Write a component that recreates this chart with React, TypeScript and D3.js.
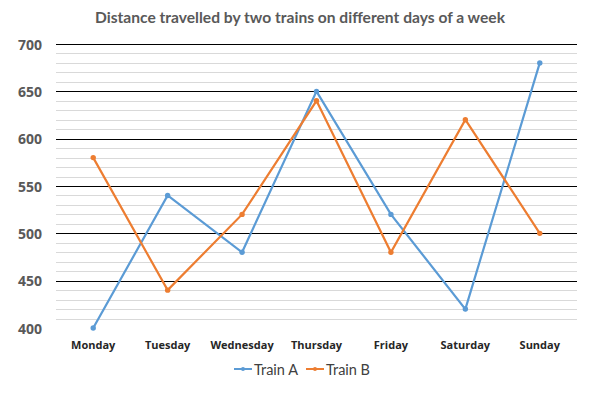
import { useEffect, useRef } from 'react';
import * as d3 from 'd3';

const days = ['Monday', 'Tuesday', 'Wednesday', 'Thursday', 'Friday', 'Saturday', 'Sunday'];
const trainA = [400, 540, 480, 650, 520, 420, 680];
const trainB = [580, 440, 520, 640, 480, 620, 500];
const yTicks = [400, 450, 500, 550, 600, 650, 700];

const COLORS = { a: '#5B9BD5', b: '#ED7D31' };

export default function App() {
  const svgRef = useRef<SVGSVGElement>(null);

  useEffect(() => {
    if (!svgRef.current) return;
    const W = 603, H = 394;
    const svg = d3.select(svgRef.current);
    svg.selectAll('*').remove();

    const x = d3.scaleBand().domain(days).range([56, 577]);
    const y = d3.scaleLinear().domain([400, 700]).range([328, 44]);

    svg.append('rect').attr('width', W).attr('height', H).attr('fill', '#fff');

    // title
    svg.append('text')
      .attr('x', 300).attr('y', 23)
      .attr('text-anchor', 'middle')
      .attr('font-family', 'Lato, sans-serif')
      .attr('font-weight', 'bold')
      .attr('font-size', 15.6)
      .attr('fill', '#595959')
      .text('Distance travelled by two trains on different days of a week');

    // minor gridlines
    const minor = d3.range(410, 700, 10).filter(v => v % 50 !== 0);
    svg.append('g').selectAll('line').data(minor).enter().append('line')
      .attr('x1', 56).attr('x2', 577)
      .attr('y1', d => Math.round(y(d)) + 0.5).attr('y2', d => Math.round(y(d)) + 0.5)
      .attr('stroke', '#d9d9d9').attr('stroke-width', 1);

    // major gridlines
    svg.append('g').selectAll('line').data(yTicks.filter(v => v > 400)).enter().append('line')
      .attr('x1', 56).attr('x2', 577)
      .attr('y1', d => Math.round(y(d)) + 0.5).attr('y2', d => Math.round(y(d)) + 0.5)
      .attr('stroke', '#000').attr('stroke-width', 1);

    // y labels
    svg.append('g').selectAll('text').data(yTicks).enter().append('text')
      .attr('x', 42).attr('y', d => y(d))
      .attr('text-anchor', 'end')
      .attr('dominant-baseline', 'central')
      .attr('font-family', '"Open Sans", sans-serif')
      .attr('font-weight', 'bold')
      .attr('font-size', 14)
      .attr('fill', '#595959')
      .text(d => d);

    // x labels
    svg.append('g').selectAll('text').data(days).enter().append('text')
      .attr('x', d => x(d)! + x.bandwidth() / 2).attr('y', 349)
      .attr('text-anchor', 'middle')
      .attr('font-family', '"Open Sans", sans-serif')
      .attr('font-weight', 'bold')
      .attr('font-size', 11)
      .attr('fill', '#262626')
      .text(d => d);

    const line = d3.line<number>()
      .x((_, i) => x(days[i])! + x.bandwidth() / 2)
      .y(d => y(d));

    const series = [
      { vals: trainA, color: COLORS.a },
      { vals: trainB, color: COLORS.b },
    ];
    series.forEach(s => {
      svg.append('path').datum(s.vals)
        .attr('d', line)
        .attr('fill', 'none')
        .attr('stroke', s.color)
        .attr('stroke-width', 2.2);
      svg.append('g').selectAll('circle').data(s.vals).enter().append('circle')
        .attr('cx', (_, i) => x(days[i])! + x.bandwidth() / 2)
        .attr('cy', d => y(d))
        .attr('r', 2.7)
        .attr('fill', s.color);
    });

    // legend
    const legend = [
      { name: 'Train A', color: COLORS.a, x: 234 },
      { name: 'Train B', color: COLORS.b, x: 306 },
    ];
    const lg = svg.append('g');
    legend.forEach(l => {
      lg.append('line')
        .attr('x1', l.x).attr('x2', l.x + 18)
        .attr('y1', 369).attr('y2', 369)
        .attr('stroke', l.color).attr('stroke-width', 2);
      lg.append('circle').attr('cx', l.x + 9).attr('cy', 369).attr('r', 2).attr('fill', l.color);
      lg.append('text')
        .attr('x', l.x + 20).attr('y', 369)
        .attr('dominant-baseline', 'central')
        .attr('font-family', 'Lato, sans-serif')
        .attr('font-size', 14.5)
        .attr('fill', '#404040')
        .text(l.name);
    });
  }, []);

  return (
    <svg ref={svgRef} width={603} height={394}
      style={{ position: 'absolute', left: 0, top: 0, display: 'block' }} />
  );
}
